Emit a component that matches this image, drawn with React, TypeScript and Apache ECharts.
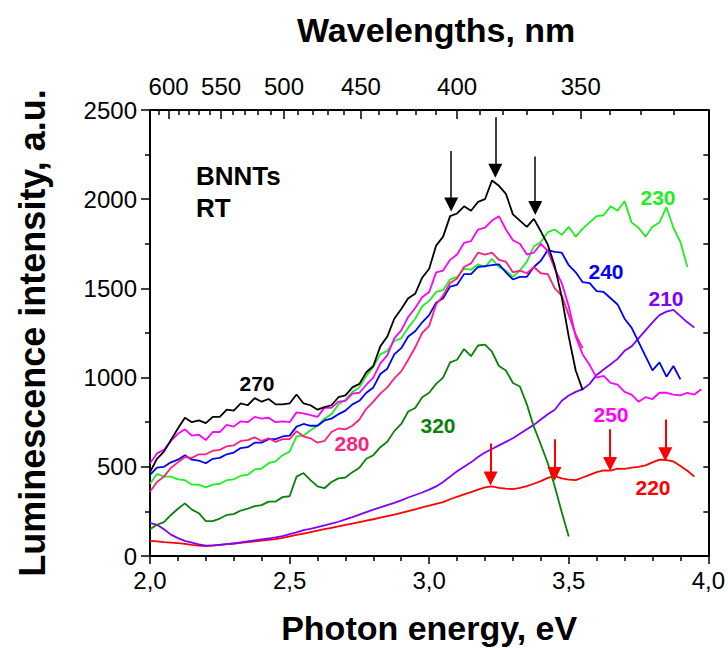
import React, { useEffect, useRef } from "react";
import * as echarts from "echarts";

// Photon energy grid, eV (step 0.025)
const energy = [
  2.0, 2.025, 2.05, 2.075, 2.1, 2.125, 2.15, 2.175, 2.2, 2.225,
  2.25, 2.275, 2.3, 2.325, 2.35, 2.375, 2.4, 2.425, 2.45, 2.475,
  2.5, 2.525, 2.55, 2.575, 2.6, 2.625, 2.65, 2.675, 2.7, 2.725,
  2.75, 2.775, 2.8, 2.825, 2.85, 2.875, 2.9, 2.925, 2.95, 2.975,
  3.0, 3.025, 3.05, 3.075, 3.1, 3.125, 3.15, 3.175, 3.2, 3.225,
  3.25, 3.275, 3.3, 3.325, 3.35, 3.375, 3.4, 3.425, 3.45, 3.475,
  3.5, 3.525, 3.55, 3.575, 3.6, 3.625, 3.65, 3.675, 3.7, 3.725,
  3.75, 3.775, 3.8, 3.825, 3.85, 3.875, 3.9, 3.925, 3.95, 3.975,
];

// Luminescence spectra for each excitation wavelength (nm), a.u.
const exc270 = [
  470, 545, 585, 650, 715, 775, 750, 760, 745, 780,
  780, 820, 815, 855, 845, 885, 865, 880, 850, 850,
  855, 905, 855, 845, 820, 835, 845, 890, 900, 945,
  965, 1030, 1065, 1175, 1230, 1330, 1385, 1445, 1470, 1560,
  1610, 1740, 1790, 1905, 1920, 1960, 1935, 1985, 2000, 2105,
  2075, 2030, 1915, 1880, 1845, 1890, 1820, 1745, 1625, 1450,
  1230, 1040, 930,
];
const exc250 = [
  520, 575, 595, 645, 685, 710, 675, 680, 650, 695,
  695, 735, 725, 755, 750, 780, 770, 775, 750, 755,
  750, 805, 800, 790, 780, 830, 830, 865, 870, 910,
  915, 960, 1000, 1080, 1125, 1220, 1265, 1340, 1390, 1450,
  1480, 1590, 1600, 1660, 1690, 1755, 1765, 1830, 1840, 1880,
  1905, 1830, 1770, 1750, 1690, 1700, 1750, 1710, 1610, 1530,
  1400, 1230, 1130, 1070, 1000, 1010, 970, 960, 920, 905,
  865, 890, 880, 915, 915, 905, 900, 915, 905, 935,
];
const exc240 = [
  455, 495, 500, 525, 540, 565, 540, 535, 520, 545,
  550, 570, 580, 605, 610, 635, 635, 655, 655, 670,
  675, 725, 740, 730, 730, 760, 770, 795, 815, 850,
  870, 915, 945, 1020, 1050, 1130, 1165, 1230, 1260, 1310,
  1350, 1420, 1445, 1510, 1520, 1580, 1580, 1620, 1625, 1630,
  1635, 1590, 1550, 1565, 1565, 1620, 1655, 1715, 1705, 1700,
  1630, 1590, 1535, 1530, 1485, 1480, 1445, 1410, 1330, 1280,
  1200, 1120, 1040, 1085, 1005, 1065, 990,
];
const exc230 = [
  405, 460, 445, 445, 430, 425, 400, 400, 385, 400,
  405, 425, 430, 450, 455, 485, 490, 520, 530, 565,
  585, 670, 675, 705, 730, 770, 795, 850, 875, 920,
  945, 1010, 1060, 1130, 1150, 1205, 1220, 1280, 1330, 1400,
  1430, 1480, 1490, 1550, 1565, 1610, 1605, 1635, 1620, 1665,
  1620, 1600, 1565, 1600, 1650, 1735, 1760, 1815, 1830, 1800,
  1845, 1790, 1835, 1870, 1905, 1910, 1960, 1935, 1990, 1870,
  1840, 1790, 1845, 1870, 1955, 1840, 1760, 1620,
];
const exc280 = [
  360, 415, 445, 495, 525, 555, 550, 570, 570, 590,
  595, 615, 620, 645, 650, 665, 645, 660, 640, 655,
  655, 700, 670, 660, 635, 645, 695, 715, 710, 730,
  765, 825, 865, 910, 945, 995, 1035, 1100, 1170, 1250,
  1290, 1410, 1460, 1530, 1555, 1620, 1640, 1700, 1690, 1700,
  1660, 1650, 1590, 1600, 1585, 1620, 1585, 1580, 1500, 1460,
  1350, 1240, 1165,
];
const exc320 = [
  150, 175, 190, 230, 265, 295, 260, 240, 195, 195,
  210, 230, 235, 255, 265, 280, 285, 305, 305, 330,
  335, 445, 465, 425, 390, 380, 415, 435, 440, 470,
  495, 545, 565, 610, 640, 700, 740, 810, 830, 890,
  915, 965, 1000, 1085, 1100, 1160, 1120, 1180, 1185, 1145,
  1065, 1040, 970, 950, 850, 725, 625, 520, 390, 245,
  110,
];
const exc210 = [
  185, 175, 150, 120, 100, 85, 75, 65, 58, 60,
  62, 66, 70, 76, 82, 88, 93, 98, 104, 112,
  122, 132, 145, 152, 162, 172, 182, 192, 205, 218,
  232, 246, 260, 272, 285, 298, 312, 328, 342, 356,
  372, 390, 415, 445, 475, 500, 525, 555, 580, 600,
  620, 640, 660, 685, 710, 735, 765, 795, 820, 870,
  900, 920, 935, 965, 1015, 1045, 1075, 1105, 1150, 1175,
  1220, 1265, 1310, 1350, 1370, 1380, 1345, 1310, 1280,
];
const exc220 = [
  85, 82, 78, 75, 72, 68, 62, 58, 55, 58,
  62, 66, 70, 74, 78, 82, 86, 90, 95, 102,
  110, 118, 126, 134, 142, 150, 158, 166, 174, 182,
  190, 198, 206, 215, 224, 232, 242, 252, 262, 272,
  282, 292, 302, 318, 332, 345, 358, 372, 385, 390,
  382, 378, 375, 382, 392, 405, 420, 438, 448, 435,
  428, 425, 440, 455, 470, 480, 478, 490, 488, 495,
  500, 508, 525, 540, 538, 530, 505, 478, 445,
];

// Wavelength scale on the top axis, nm
const wavelengthMajor = [600, 550, 500, 450, 400, 350];
const wavelengthMinor = [
  610, 590, 580, 570, 560, 540, 530, 520, 510, 490, 480, 470, 460,
  440, 430, 420, 410, 390, 380, 370, 360, 340, 330, 320, 310,
];

// Peak markers: [energy, tail intensity, head intensity]
const blackArrows = [
  [3.079, 2270, 1970],
  [3.237, 2460, 2160],
  [3.38, 2240, 1950],
];
const redArrows = [
  [3.22, 630, 435],
  [3.449, 655, 460],
  [3.648, 710, 515],
  [3.846, 765, 570],
];

const FONT = "'Liberation Sans', Arial, Helvetica, sans-serif";
const HC = 1240; // eV·nm

const curves = [
  { name: "220", data: exc220, color: "#ff0000", label: [653, 487] },
  { name: "210", data: exc210, color: "#8000ff", label: [666, 298] },
  { name: "320", data: exc320, color: "#0a820a", label: [438, 425] },
  { name: "230", data: exc230, color: "#1ef01e", label: [658, 197] },
  { name: "240", data: exc240, color: "#0000ff", label: [606, 271] },
  { name: "280", data: exc280, color: "#ff1f7f", label: [352, 443] },
  { name: "250", data: exc250, color: "#ff00ff", label: [611, 414] },
  { name: "270", data: exc270, color: "#000000", label: [257, 383] },
];

export default function App() {
  const ref = useRef<HTMLDivElement>(null);

  useEffect(() => {
    if (!ref.current) return;
    const chart = echarts.init(ref.current, undefined, { renderer: "svg" });

    const lineSeries = curves.map((c) => ({
      type: "line",
      name: c.name,
      xAxisIndex: 0,
      yAxisIndex: 0,
      showSymbol: false,
      symbol: "none",
      data: c.data.map((v, i) => [energy[i], v]),
      lineStyle: { color: c.color, width: 1.8 },
      itemStyle: { color: c.color },
      z: 3,
    }));

    const arrowSeries = (list: number[][], color: string, width: number, size: number[]) => ({
      type: "lines",
      coordinateSystem: "cartesian2d",
      xAxisIndex: 0,
      yAxisIndex: 0,
      symbol: ["none", "triangle"],
      symbolSize: size,
      lineStyle: { color, width, opacity: 1, curveness: 0 },
      data: list.map((a) => ({ coords: [[a[0], a[1]], [a[0], a[2]]] })),
      z: 5,
    });

    const labels = curves.map((c) => ({
      type: "text",
      x: c.label[0],
      y: c.label[1],
      style: {
        text: c.name,
        fill: c.color,
        font: `bold 21px ${FONT}`,
        textAlign: "center",
        textVerticalAlign: "middle",
      },
      z: 10,
    }));

    const axisLineStyle = { color: "#000", width: 2 };

    chart.setOption({
      animation: false,
      textStyle: { fontFamily: FONT },
      grid: { left: 150, right: 19, top: 110, bottom: 90, containLabel: false },
      xAxis: [
        {
          type: "value",
          position: "bottom",
          min: 2,
          max: 4,
          interval: 0.5,
          name: "Photon energy, eV",
          nameLocation: "middle",
          nameGap: 55,
          nameTextStyle: { fontSize: 34, fontWeight: "bold", color: "#000", fontFamily: FONT },
          axisLine: { show: true, lineStyle: axisLineStyle, onZero: false },
          axisTick: { show: true, inside: false, length: 8, lineStyle: { color: "#000", width: 1.5 } },
          minorTick: { show: true, splitNumber: 5, length: 5, lineStyle: { color: "#000", width: 1.5 } },
          axisLabel: {
            fontSize: 24,
            color: "#000",
            margin: 12,
            fontFamily: FONT,
            formatter: (v: number) => v.toFixed(1).replace(".", ","),
          },
          splitLine: { show: false },
        },
        {
          type: "value",
          position: "top",
          min: 2,
          max: 4,
          name: "Wavelengths, nm",
          nameLocation: "middle",
          nameGap: 63,
          nameTextStyle: {
            fontSize: 34,
            fontWeight: "bold",
            color: "#000",
            fontFamily: FONT,
            padding: [0, 0, 0, 14],
          },
          axisLine: { show: true, lineStyle: axisLineStyle, onZero: false },
          axisTick: {
            show: true,
            inside: true,
            length: 9,
            lineStyle: { color: "#000", width: 1.5 },
            customValues: wavelengthMajor.map((w) => HC / w),
          },
          axisLabel: {
            show: true,
            fontSize: 24,
            color: "#000",
            margin: 12,
            fontFamily: FONT,
            customValues: wavelengthMajor.map((w) => HC / w),
            formatter: (v: number) => String(Math.round(HC / v)),
          },
          splitLine: { show: false },
        },
        {
          type: "value",
          position: "top",
          min: 2,
          max: 4,
          axisLine: { show: false, onZero: false },
          axisTick: {
            show: true,
            inside: true,
            length: 5,
            lineStyle: { color: "#000", width: 1.5 },
            customValues: wavelengthMinor.map((w) => HC / w),
          },
          axisLabel: { show: false },
          splitLine: { show: false },
        },
      ],
      yAxis: [
        {
          type: "value",
          position: "left",
          min: 0,
          max: 2500,
          interval: 500,
          name: "Luminescence intensity, a.u.",
          nameLocation: "middle",
          nameGap: 100,
          nameTextStyle: { fontSize: 36, fontWeight: "bold", color: "#000", fontFamily: FONT },
          axisLine: { show: true, lineStyle: axisLineStyle, onZero: false },
          axisTick: { show: true, inside: false, length: 9, lineStyle: { color: "#000", width: 1.5 } },
          minorTick: { show: true, splitNumber: 2, length: 5, lineStyle: { color: "#000", width: 1.5 } },
          axisLabel: {
            fontSize: 24,
            color: "#000",
            margin: 13,
            fontFamily: FONT,
            formatter: (v: number) => String(v),
          },
          splitLine: { show: false },
        },
        {
          type: "value",
          position: "right",
          min: 0,
          max: 2500,
          interval: 250,
          axisLine: { show: true, lineStyle: axisLineStyle, onZero: false },
          axisTick: { show: true, inside: true, length: 5, lineStyle: { color: "#000", width: 1.5 } },
          axisLabel: { show: false },
          splitLine: { show: false },
        },
      ],
      series: [
        ...lineSeries,
        arrowSeries(blackArrows, "#000000", 1.5, [7, 14]),
        arrowSeries(redArrows, "#ff0000", 2, [8, 14]),
      ],
      graphic: [
        {
          type: "text",
          x: 196,
          y: 176,
          style: {
            text: "BNNTs",
            fill: "#000",
            font: `bold 26px ${FONT}`,
            textVerticalAlign: "middle",
          },
        },
        {
          type: "text",
          x: 196,
          y: 208,
          style: {
            text: "RT",
            fill: "#000",
            font: `bold 26px ${FONT}`,
            textVerticalAlign: "middle",
          },
        },
        ...labels,
      ],
    });

    return () => chart.dispose();
  }, []);

  return (
    <div
      ref={ref}
      style={{ position: "fixed", left: 0, top: 0, width: 728, height: 650, background: "#fff" }}
    />
  );
}
